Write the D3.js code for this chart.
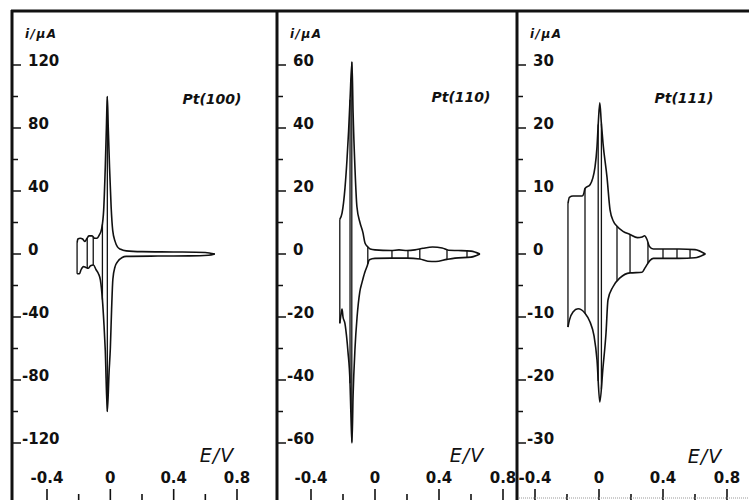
<!DOCTYPE html>
<html><head><meta charset="utf-8">
<script src="https://cdn.jsdelivr.net/npm/d3@7/dist/d3.min.js"></script>
<style>body{margin:0;background:#fff}svg{display:block}</style>
</head><body>
<svg id="chart" width="749" height="500"></svg>
<script>
// ---------------- data ----------------
const panelNames = ["Pt(100)", "Pt(110)", "Pt(111)"];
const xTickValues = [-0.4, -0.2, 0, 0.2, 0.4, 0.6, 0.8];
const xLabelValues = [-0.4, 0, 0.4, 0.8];
const xLabelTexts = ["-0.4", "0", "0.4", "0.8"];

const yTicks100 = [-120, -80, -40, 0, 40, 80, 120];
const yLabels100 = ["-120", "-80", "-40", "0", "40", "80", "120"];
const yTicks110 = [-60, -40, -20, 0, 20, 40, 60];
const yLabels110 = ["-60", "-40", "-20", "0", "20", "40", "60"];
const yTicks111 = [-30, -20, -10, 0, 10, 20, 30];
const yLabels111 = ["-30", "-20", "-10", "0", "10", "20", "30"];

// Pt(100): [E/V, i/µA]
const anodic100 = [[-0.21,7],[-0.205,9.5],[-0.19,10],[-0.175,9.5],[-0.16,8],[-0.15,9.5],[-0.135,11.5],[-0.115,11.5],[-0.1,10],[-0.085,10],[-0.07,12],[-0.055,16],[-0.042,28],[-0.032,55],[-0.025,80],[-0.019,100],[-0.013,80],[-0.005,55],[0.005,30],[0.015,15],[0.03,8],[0.045,4.5],[0.065,3],[0.1,2],[0.2,1.5],[0.4,1.3],[0.6,1],[0.66,0]];
const cathodic100 = [[-0.21,-12.5],[-0.195,-12.5],[-0.185,-10],[-0.17,-8],[-0.155,-8.5],[-0.14,-9],[-0.125,-7.5],[-0.107,-7],[-0.09,-10],[-0.075,-12.5],[-0.063,-16.5],[-0.05,-29],[-0.04,-45],[-0.032,-61],[-0.019,-100],[-0.008,-75],[0.0,-60],[0.008,-35],[0.016,-16],[0.03,-8],[0.045,-5],[0.075,-2.2],[0.1,-1.5],[0.3,-1.3],[0.5,-1.2],[0.62,-0.8],[0.66,0]];
const switch100 = [-0.21, -0.146, -0.108, -0.05, -0.019];

// Pt(110)
const anodic110 = [[-0.22,11],[-0.206,13],[-0.1875,21],[-0.175,30],[-0.165,39],[-0.156,49],[-0.144,61],[-0.137,45],[-0.125,27],[-0.113,15],[-0.094,10],[-0.075,6.7],[-0.0625,3.5],[-0.044,2.2],[-0.03,1.6],[0.0,1.3],[0.1,1.1],[0.15,1.3],[0.2,1.1],[0.25,1.3],[0.3,1.8],[0.36,2.2],[0.42,1.9],[0.46,1.2],[0.52,1.1],[0.6,0.9],[0.656,0]];
const cathodic110 = [[-0.22,-22],[-0.212,-19],[-0.206,-17.5],[-0.2,-20],[-0.188,-22],[-0.178,-26],[-0.169,-31],[-0.156,-41],[-0.15,-52],[-0.144,-60],[-0.137,-45],[-0.125,-30],[-0.112,-20],[-0.095,-12],[-0.081,-9],[-0.065,-6],[-0.05,-4],[-0.035,-1.8],[0.0,-1.4],[0.1,-1.3],[0.2,-1.3],[0.28,-1.6],[0.33,-2.3],[0.38,-2.4],[0.45,-1.7],[0.5,-1.3],[0.6,-1.0],[0.656,0]];
const switch110 = [-0.22, -0.156, -0.145, -0.045, 0.106, 0.206, 0.28, 0.45, 0.575];

// Pt(111)
const anodic111 = [[-0.194,8],[-0.185,9],[-0.1625,9.2],[-0.131,9.2],[-0.105,9.2],[-0.095,9.6],[-0.0875,10.4],[-0.056,11],[-0.025,13.8],[-0.0125,17],[-0.004,21],[0.005,24],[0.014,21],[0.025,17.6],[0.05,12.2],[0.069,7],[0.09,5.2],[0.1125,4.4],[0.15,3.6],[0.194,3.1],[0.24,2.6],[0.27,2.7],[0.285,2.9],[0.3,2.3],[0.315,1.2],[0.34,0.8],[0.5,0.8],[0.6,0.7],[0.665,0]];
const cathodic111 = [[-0.194,-11.6],[-0.185,-10.5],[-0.1625,-9.2],[-0.131,-8.7],[-0.0875,-9.4],[-0.056,-10.8],[-0.031,-13],[-0.0125,-16.8],[0.005,-23.5],[0.025,-18],[0.044,-12.5],[0.056,-7.3],[0.0875,-5.2],[0.131,-3.8],[0.194,-3],[0.269,-2.9],[0.2875,-2.2],[0.319,-1],[0.34,-0.7],[0.5,-0.7],[0.6,-0.6],[0.665,0]];
const switch111 = [-0.194, -0.0875, -0.005, 0.015, 0.1125, 0.194, 0.306, 0.4, 0.4875, 0.569];

// ---------------- layout ----------------
const layout = [
  {axisX: 12,  xRange: [47, 237],  yMax: 120, yMinor: 20, ticks: yTicks100, labels: yLabels100, anodic: anodic100, cathodic: cathodic100, switches: switch100, name: panelNames[0], namePos: [212, 104], evPos: [217, 462]},
  {axisX: 277, xRange: [311, 503], yMax: 60,  yMinor: 10, ticks: yTicks110, labels: yLabels110, anodic: anodic110, cathodic: cathodic110, switches: switch110, name: panelNames[1], namePos: [461, 102], evPos: [467, 462]},
  {axisX: 517, xRange: [535, 727], yMax: 30,  yMinor: 5,  ticks: yTicks111, labels: yLabels111, anodic: anodic111, cathodic: cathodic111, switches: switch111, name: panelNames[2], namePos: [684, 103], evPos: [705, 463]}
];
const Y0 = 254, YSPAN = 189, INK = "#111";

const svg = d3.select("#chart");
svg.append("rect").attr("width", 749).attr("height", 500).attr("fill", "#fff");

function yAt(node, px) {
  const L = node.getTotalLength();
  let lo = 0, hi = L;
  for (let k = 0; k < 40; k++) {
    const mid = (lo + hi) / 2;
    if (node.getPointAtLength(mid).x < px) lo = mid; else hi = mid;
  }
  return node.getPointAtLength((lo + hi) / 2).y;
}

layout.forEach(p => {
  const x = d3.scaleLinear().domain([-0.4, 0.8]).range(p.xRange);
  const y = d3.scaleLinear().domain([-p.yMax, p.yMax]).range([Y0 + YSPAN, Y0 - YSPAN]);
  const g = svg.append("g");

  // y ticks
  const minor = d3.range(-p.yMax, p.yMax + 1e-9, p.yMinor);
  g.selectAll(".ytick").data(minor).join("line")
    .attr("x1", p.axisX).attr("x2", d => p.axisX + (p.ticks.includes(Math.round(d)) ? 9 : 6))
    .attr("y1", d => y(d)).attr("y2", d => y(d))
    .attr("stroke", INK).attr("stroke-width", 1.5);
  g.selectAll(".ylab").data(p.ticks).join("text")
    .attr("x", d => p.axisX + (d < 0 ? 10 : 16))
    .attr("y", d => y(d) + 1)
    .attr("font-family", "DejaVu Sans").attr("font-weight", "bold").attr("font-size", 15)
    .attr("fill", INK)
    .text((d, i) => p.labels[i]);

  // x ticks at bottom
  g.selectAll(".xtick").data(xTickValues).join("line")
    .attr("x1", d => x(d)).attr("x2", d => x(d))
    .attr("y1", d => xLabelValues.some(v => Math.abs(v - d) < 1e-9) ? 489 : 494).attr("y2", 500)
    .attr("stroke", INK).attr("stroke-width", 1.6);
  g.selectAll(".xlab").data(xLabelValues).join("text")
    .attr("x", d => x(d)).attr("y", 483)
    .attr("text-anchor", "middle")
    .attr("font-family", "DejaVu Sans").attr("font-weight", "bold").attr("font-size", 15)
    .attr("fill", INK)
    .text((d, i) => xLabelTexts[i]);

  // axis titles
  g.append("text").attr("x", p.axisX + 13).attr("y", 38)
    .attr("font-family", "DejaVu Sans").attr("font-weight", "bold").attr("font-style", "italic")
    .attr("font-size", 12).attr("letter-spacing", 1.5).attr("fill", INK).text("i/μA");
  g.append("text").attr("x", p.evPos[0]).attr("y", p.evPos[1]).attr("text-anchor", "middle")
    .attr("font-family", "DejaVu Sans").attr("font-style", "italic")
    .attr("font-size", 19).attr("letter-spacing", 1).attr("fill", INK).text("E/V");
  g.append("text").attr("x", p.namePos[0]).attr("y", p.namePos[1]).attr("text-anchor", "middle")
    .attr("font-family", "DejaVu Sans").attr("font-weight", "bold").attr("font-style", "italic")
    .attr("font-size", 14).attr("fill", INK).text(p.name);

  // voltammogram
  const line = d3.line().x(d => x(d[0])).y(d => y(d[1])).curve(d3.curveMonotoneX);
  const up = g.append("path").datum(p.anodic).attr("d", line)
    .attr("fill", "none").attr("stroke", INK).attr("stroke-width", 1.6);
  const dn = g.append("path").datum(p.cathodic).attr("d", line)
    .attr("fill", "none").attr("stroke", INK).attr("stroke-width", 1.6);
  p.switches.forEach(E => {
    const px = x(E);
    g.append("line").attr("x1", px).attr("x2", px)
      .attr("y1", yAt(up.node(), px)).attr("y2", yAt(dn.node(), px))
      .attr("stroke", INK).attr("stroke-width", 1.3);
  });

  // vertical axis line
  g.append("line").attr("x1", p.axisX).attr("x2", p.axisX).attr("y1", 10).attr("y2", 500)
    .attr("stroke", INK).attr("stroke-width", 3);
});

// top frame line
svg.append("line").attr("x1", 11).attr("x2", 749).attr("y1", 11).attr("y2", 11)
  .attr("stroke", INK).attr("stroke-width", 3);
// faint bottom axis in last panel
svg.append("line").attr("x1", 519).attr("x2", 749).attr("y1", 498).attr("y2", 498)
  .attr("stroke", "#999").attr("stroke-width", 1).attr("stroke-dasharray", "1,1");
</script>
</body></html>
